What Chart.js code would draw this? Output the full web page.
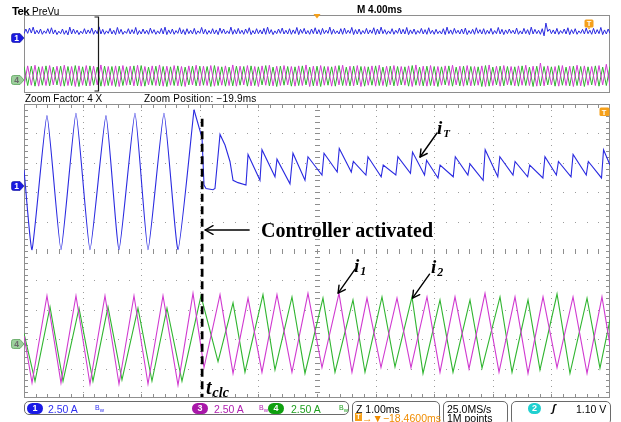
<!DOCTYPE html>
<html><head><meta charset="utf-8">
<script src="https://cdn.jsdelivr.net/npm/chart.js@4"></script>
<style>
html,body{margin:0;padding:0;background:#fff;width:621px;height:422px;overflow:hidden;}
#wrap{position:relative;width:621px;height:422px;}
canvas{position:absolute;left:0;top:0;}
.t{position:absolute;white-space:nowrap;font-family:"Liberation Sans",Arial,sans-serif;font-size:10px;line-height:10px;color:#000;}
.lab{position:absolute;white-space:nowrap;font-family:"Liberation Serif","Times New Roman",serif;font-weight:bold;color:#000;}
.it{font-style:italic;}
.box{position:absolute;border:1px solid #6a6a6a;border-radius:5px;box-sizing:border-box;}
.pill{position:absolute;height:11px;border-radius:6px;color:#fff;font:bold 9px/11px "Liberation Sans",Arial,sans-serif;text-align:center;}
.bw{position:absolute;font:7px/7px "Liberation Sans",Arial,sans-serif;}
svg.mk{position:absolute;}
</style></head><body>
<div id="wrap">
<canvas id="prev" width="621" height="422" style="width:621px;height:422px"></canvas>
<canvas id="main" width="621" height="422" style="width:621px;height:422px"></canvas>

<!-- header texts -->
<div class="t" style="left:12px;top:5.5px;font-size:11.5px;line-height:11.5px;font-weight:bold;letter-spacing:-0.7px">Tek</div>
<div class="t" style="left:32px;top:6.5px">PreVu</div>
<div class="t" style="left:357px;top:4.5px;font-weight:bold">M 4.00ms</div>
<div class="t" style="left:25px;top:93.5px">Zoom Factor: 4 X</div>
<div class="t" style="left:144px;top:93.5px;letter-spacing:0.2px">Zoom Position: −19.9ms</div>

<!-- channel markers -->
<svg class="mk" style="left:11px;top:33px" width="14" height="10"><path d="M2.5,0.5 H9 L13,5 L9,9.5 H2.5 Q0.5,9.5 0.5,7.5 V2.5 Q0.5,0.5 2.5,0.5Z" fill="#1a1ae0" stroke="#1010a0" stroke-width="0.6"/><text x="5.5" y="8.3" font-family="Liberation Sans" font-weight="bold" font-size="8.5" fill="#fff" text-anchor="middle">1</text></svg>
<svg class="mk" style="left:11px;top:75px" width="14" height="10"><path d="M2.5,0.5 H9 L13,5 L9,9.5 H2.5 Q0.5,9.5 0.5,7.5 V2.5 Q0.5,0.5 2.5,0.5Z" fill="#9ccf9c" stroke="#5aa55a" stroke-width="0.8"/><text x="5.5" y="8.3" font-family="Liberation Sans" font-weight="bold" font-size="8.5" fill="#6a6a6a" text-anchor="middle">4</text></svg>
<svg class="mk" style="left:11px;top:181px" width="14" height="10"><path d="M2.5,0.5 H9 L13,5 L9,9.5 H2.5 Q0.5,9.5 0.5,7.5 V2.5 Q0.5,0.5 2.5,0.5Z" fill="#1a1ae0" stroke="#1010a0" stroke-width="0.6"/><text x="5.5" y="8.3" font-family="Liberation Sans" font-weight="bold" font-size="8.5" fill="#fff" text-anchor="middle">1</text></svg>
<svg class="mk" style="left:11px;top:339px" width="14" height="10"><path d="M2.5,0.5 H9 L13,5 L9,9.5 H2.5 Q0.5,9.5 0.5,7.5 V2.5 Q0.5,0.5 2.5,0.5Z" fill="#9ccf9c" stroke="#5aa55a" stroke-width="0.8"/><text x="5.5" y="8.3" font-family="Liberation Sans" font-weight="bold" font-size="8.5" fill="#6a6a6a" text-anchor="middle">4</text></svg>

<!-- orange trigger markers -->
<svg class="mk" style="left:584px;top:19px" width="10" height="11"><rect x="0.5" y="0.5" width="9" height="8" rx="1.5" fill="#f5a01a"/><path d="M3.5,8.5 L5,10.5 L6.5,8.5Z" fill="#f5a01a"/><text x="5" y="7.3" font-family="Liberation Sans" font-weight="bold" font-size="7.5" fill="#fff" text-anchor="middle">T</text></svg>
<svg class="mk" style="left:599px;top:107px" width="11" height="10"><rect x="0.5" y="0.5" width="10" height="8.5" rx="1.5" fill="#f5a01a"/><text x="5" y="7.6" font-family="Liberation Sans" font-weight="bold" font-size="7.5" fill="#fff" text-anchor="middle">T</text></svg>

<!-- annotations -->
<div class="lab" style="left:261px;top:220px;font-size:20px;line-height:20px">Controller activated</div>
<div class="lab it" style="left:437px;top:118px;font-size:19px;line-height:19px">i<span style="font-size:11px;position:relative;top:3px;margin-left:1px">T</span></div>
<div class="lab it" style="left:354px;top:256px;font-size:19px;line-height:19px">i<span style="font-size:12px;position:relative;top:3px;margin-left:1px">1</span></div>
<div class="lab it" style="left:431px;top:257px;font-size:19px;line-height:19px">i<span style="font-size:12px;position:relative;top:3px;margin-left:1px">2</span></div>
<div class="lab it" style="left:206px;top:377px;font-size:20px;line-height:20px">t<span style="font-size:14px;position:relative;top:3px;margin-left:1px">clc</span></div>

<!-- bottom status bar -->
<div class="box" style="left:24px;top:401px;width:325px;height:14px"></div>
<div class="pill" style="left:27px;top:402.5px;width:16px;background:#1a1ae6">1</div>
<div class="t" style="left:48px;top:403.5px;font-size:10.5px;line-height:10.5px;color:#3030f0">2.50 A</div>
<div class="bw" style="left:95px;top:404px;color:#3030f0">B<sub style="font-size:6px">w</sub></div>
<div class="pill" style="left:192px;top:402.5px;width:16px;background:#a818a8">3</div>
<div class="t" style="left:214px;top:403.5px;font-size:10.5px;line-height:10.5px;color:#b020b0">2.50 A</div>
<div class="bw" style="left:259px;top:404px;color:#b020b0">B<sub style="font-size:6px">w</sub></div>
<div class="pill" style="left:268px;top:402.5px;width:16px;background:#10a010">4</div>
<div class="t" style="left:291px;top:403.5px;font-size:10.5px;line-height:10.5px;color:#20a020">2.50 A</div>
<div class="bw" style="left:339px;top:404px;color:#20a020">B<sub style="font-size:6px">w</sub></div>

<div class="box" style="left:352px;top:401px;width:88px;height:24px"></div>
<div class="t" style="left:356px;top:403.5px;font-size:10.5px;line-height:10.5px">Z 1.00ms</div>
<div class="t" style="left:355px;top:412.5px;font-size:10.5px;line-height:10.5px;color:#f08c00"><span style="display:inline-block;width:7px;height:8px;background:#f5a01a;color:#fff;font-size:7px;line-height:8px;text-align:center;font-weight:bold;vertical-align:top">T</span>→▼−18.4600ms</div>

<div class="box" style="left:443px;top:401px;width:65px;height:24px"></div>
<div class="t" style="left:447px;top:403.5px;font-size:10.5px;line-height:10.5px">25.0MS/s</div>
<div class="t" style="left:447px;top:412.5px;font-size:10.5px;line-height:10.5px">1M points</div>

<div class="box" style="left:511px;top:401px;width:100px;height:24px"></div>
<div class="pill" style="left:528px;top:402.5px;width:13px;background:#20d0d0">2</div>
<div class="t" style="left:552px;top:403px;font-size:11px;line-height:11px;font-weight:bold;font-style:italic">ʃ</div>
<div class="t" style="left:576px;top:403.5px;font-size:10.5px;line-height:10.5px">1.10 V</div>
</div>

<script>
// ===== Data =====
// Zoom window: time in ms (1.00 ms/div), currents in A (2.50 A/div)
const iT_t = [0, 0.137, 0.392, 0.631, 0.887, 1.126, 1.399, 1.621, 1.894, 2.116, 2.389, 2.628, 2.901, 3.038, 3.072, 3.106, 3.225, 3.259, 3.345, 3.430, 3.515, 3.567, 3.652, 3.788, 3.823, 4.027, 4.061, 4.283, 4.317, 4.539, 4.590, 4.795, 4.846,
  5.085, 5.12, 5.345, 5.38, 5.585, 5.62, 5.835, 5.87, 6.095, 6.13, 6.345, 6.38, 6.595, 6.63, 6.835, 6.87, 7.065, 7.10, 7.325, 7.36, 7.575, 7.61, 7.835, 7.87, 8.085, 8.12, 8.345, 8.38, 8.595, 8.63, 8.855, 8.89, 9.085, 9.12, 9.335, 9.37, 9.595, 9.63, 9.855, 9.89, 10.0];
const iT_A = [1.3, -5.5, 5.9, -5.5, 6.1, -5.5, 5.9, -5.5, 6.1, -5.5, 6.1, -5.5, 6.4, 4.0, 0.0, -0.3, -0.4, -0.3, 4.3, 3.4, 2.0, 0.4, 0.2, 0.0, 2.6, 0.4, 3.0, 0.7, 2.2, 0.1, 2.7, 0.4, 2.4,
  0.85, 2.7, 1.1, 3.1, 1.1, 2.0, 0.85, 2.4, 0.7, 1.7, 0.85, 2.4, 1.0, 2.8, 0.85, 2.1, 0.6, 1.7, 0.7, 2.4, 0.85, 1.8, 0.4, 3.0, 0.7, 2.4, 0.85, 2.0, 0.7, 1.7, 0.6, 2.4, 0.85, 2.0, 0.7, 2.6, 0.85, 2.0, 0.6, 3.0, 1.7];

const i1_t = [0, 0.137, 0.392, 0.631, 0.887, 1.126, 1.382, 1.621, 1.877, 2.116, 2.372, 2.628, 2.884, 3.072, 3.345, 3.567, 3.823, 4.061, 4.317, 4.573, 4.846, 5.085, 5.375, 5.597, 5.853, 6.092, 6.365, 6.604, 6.877, 7.099, 7.355, 7.594, 7.867, 8.106, 8.379, 8.601, 8.857, 9.096, 9.369, 9.608, 9.863, 10.0];
const i1_A = [0.7, -3.3, 4.1, -3.3, 4.1, -3.4, 4.1, -3.4, 4.1, -3.4, 4.1, -3.5, 4.3, -2.0, 4.2, -2.5, 3.9, -2.4, 4.2, -2.4, 4.3, -2.0, 4.3, -2.4, 3.9, -2.0, 3.9, -2.0, 4.0, -2.4, 4.0, -2.1, 4.3, -2.4, 4.0, -2.5, 4.0, -2.0, 4.0, -2.5, 4.0, -0.1];

const i2_t = [0, 0.188, 0.444, 0.666, 0.939, 1.177, 1.433, 1.672, 1.945, 2.184, 2.440, 2.696, 3.020, 3.311, 3.567, 3.771, 4.078, 4.283, 4.573, 4.795, 5.102, 5.307, 5.614, 5.819, 6.109, 6.331, 6.621, 6.809, 7.099, 7.321, 7.611, 7.816, 8.123, 8.328, 8.601, 8.805, 9.096, 9.317, 9.608, 9.829, 10.0];
const i2_A = [0.9, -3.15, 3.15, -3.15, 3.05, -3.15, 3.15, -3.05, 3.05, -3.15, 3.05, -3.15, 4.1, -1.5, 3.5, -2.4, 4.2, -2.2, 4.0, -2.5, 3.9, -2.4, 3.75, -2.4, 4.0, -1.95, 4.0, -2.5, 3.75, -2.4, 3.75, -2.05, 4.0, -2.4, 3.75, -2.2, 4.25, -2.5, 3.9, -2.05, 2.05];

const tClc = 3.04;           // controller activation instant (ms)

// PreVu record (40 ms, 4.00 ms/div): vertex values in A
const prevStepIT = 0.125;    // ms between i_T vertices
const prevIT = [
 0.9,2.4,1.0,2.7,1.1,3.0,0.8,2.0, 0.9,2.4,0.7,1.8,1.0,2.5,0.9,2.8, 0.8,2.1,0.6,1.7,0.9,2.4,0.7,1.9, 0.5,3.0,0.8,2.4,0.9,2.0,0.6,1.7,
 0.9,2.5,0.8,2.1,1.0,2.7,0.7,2.0, 0.9,3.1,0.8,2.3,0.7,1.8,1.0,2.6, 0.8,2.0,0.6,2.9,0.9,2.3,0.7,1.7, 1.0,2.5,0.8,2.2,0.9,2.9,0.6,1.9,
 0.8,2.4,0.9,2.0,0.7,2.7,1.0,2.2, 0.7,1.8,0.9,2.6,0.8,3.0,0.6,2.1, 0.9,2.4,0.7,1.9,1.0,2.8,0.8,2.2, 0.6,2.5,0.9,2.0,0.8,2.6,0.7,1.8,
 1.0,2.9,0.8,2.3,0.7,1.9,0.9,2.5, 0.8,2.1,0.6,2.7,1.0,2.4,0.8,1.8, 0.9,3.0,0.7,2.2,0.8,2.6,0.9,2.0, 0.7,2.4,1.0,2.8,0.6,1.9,0.8,2.5,
 0.9,2.1,0.8,2.6,0.7,3.0,0.9,2.2, 0.6,1.8,0.9,2.4,1.0,2.7,0.8,2.0, 0.8,2.5,0.7,2.1,0.9,2.9,0.6,2.3, 1.0,2.6,0.8,1.9,0.7,2.4,0.9,2.8,
 0.8,2.2,0.6,2.6,0.9,2.0,1.0,3.0, 0.7,2.3,0.9,1.8,0.8,2.5,0.7,2.7, 0.9,2.0,1.0,2.9,0.6,2.2,0.8,2.4, 0.7,1.9,0.9,2.6,0.8,2.1,1.0,2.8,
 0.6,2.4,0.8,3.0,0.9,2.2,0.7,1.8, 0.9,2.5,0.7,2.0,1.0,2.7,0.8,2.3, 0.8,2.9,0.6,2.1,0.9,2.4,0.7,1.9, 1.0,2.6,0.8,2.2,0.7,2.8,0.9,2.0,
 0.7,2.3,0.9,1.8,0.8,2.5,0.6,3.0, 0.9,2.1,0.7,2.6,1.0,2.0,0.8,2.4, 0.8,2.7,0.6,1.9,0.9,2.3,0.7,2.8, 1.0,2.2,0.8,2.5,0.7,2.0,0.9,2.6,
 0.7,1.9,0.9,2.9,0.8,2.3,0.6,2.1, 0.9,2.4,1.0,2.0,0.8,2.7,0.7,1.8, 0.8,2.6,0.9,2.2,0.6,3.0,0.8,2.3, 0.9,2.0,0.7,2.5,0.2,4.3,1.6,2.4,
 0.9,2.1,0.8,2.6,0.7,1.9,1.0,2.4, 0.8,2.8,0.6,2.2,0.9,2.5,0.7,1.8, 1.0,2.3,0.8,2.7,0.9,2.0,0.7,2.6, 0.8,2.2,0.9,2.9,0.6,2.1,0.8,2.4,
 1.0];
const prevStepI = 0.25;      // ms between i1 / i2 vertices
const prevI1 = [
 -2.3,4.1,-2.1,4.3,-2.4,3.9,-2.2,4.2, -2.0,4.0,-2.4,4.3,-2.2,3.9,-2.5,4.1, -2.1,4.2,-2.3,4.0,-2.0,4.4,-2.4,3.9, -2.2,4.1,-2.5,4.2,-2.1,4.0,-2.3,4.3,
 -2.4,3.9,-2.0,4.1,-2.2,4.4,-2.4,4.0, -2.1,4.2,-2.3,3.9,-2.5,4.1,-2.0,4.3, -2.3,4.0,-2.2,4.2,-2.4,3.9,-2.1,4.1, -2.2,4.4,-2.4,4.0,-2.0,4.2,-2.3,3.9,
 -2.5,4.1,-2.1,4.3,-2.3,4.0,-2.2,4.2, -2.0,3.9,-2.4,4.1,-2.2,4.4,-2.5,4.0, -2.3,4.2,-2.1,3.9,-2.4,4.1,-2.0,4.3, -2.2,4.0,-2.3,4.2,-2.5,3.9,-2.1,4.1,
 -2.4,4.3,-2.2,4.0,-2.0,4.2,-2.3,3.9, -2.1,4.1,-2.5,4.4,-2.2,4.0,-2.4,4.2, -2.3,3.9,-2.1,4.1,-2.2,4.3,-2.0,4.0, -2.4,4.2,-2.3,3.9,-2.1,4.1,-2.5,4.4,
 -2.2,4.0,-2.4,4.2,-2.0,3.9,-2.3,4.1, -2.1,4.3,-2.2,4.0,-2.4,5.0,-2.3,4.1, -2.0,3.9,-2.4,4.2,-2.2,4.0,-2.5,4.3, -2.3,4.1,-2.1,3.9,-2.2,4.2,-2.0,4.6,
 -2.3];
const prevI2 = [
 3.9,-2.2,4.0,-2.4,3.8,-2.1,4.1,-2.3, 3.7,-2.0,4.0,-2.4,3.9,-2.2,4.2,-2.5, 3.8,-2.3,4.1,-2.1,3.7,-2.4,4.0,-2.2, 3.9,-2.5,4.0,-2.2,3.8,-2.0,4.1,-2.3,
 4.2,-2.4,3.7,-2.1,4.0,-2.3,3.9,-2.5, 3.8,-2.2,4.1,-2.4,3.7,-2.0,4.0,-2.3, 4.0,-2.1,3.9,-2.5,4.2,-2.2,3.8,-2.4, 3.7,-2.3,4.0,-2.1,3.9,-2.4,4.1,-2.2,
 3.8,-2.0,4.2,-2.3,3.7,-2.5,4.0,-2.1, 3.9,-2.4,3.8,-2.2,4.1,-2.0,3.7,-2.3, 4.0,-2.5,3.9,-2.1,3.8,-2.4,4.2,-2.2, 3.7,-2.3,4.0,-2.0,3.9,-2.4,3.8,-2.1,
 4.1,-2.2,3.7,-2.5,4.0,-2.3,3.9,-2.0, 3.8,-2.4,4.2,-2.1,3.7,-2.3,4.0,-2.2, 3.9,-2.5,3.8,-2.0,4.1,-2.4,3.7,-2.3, 4.0,-2.1,3.9,-2.2,3.8,-2.5,4.2,-2.4,
 3.7,-2.0,4.0,-2.3,3.9,-2.1,3.8,-2.4, 4.1,-2.2,3.7,-2.5,4.0,-2.3,3.9,-2.0, 3.8,-2.4,4.2,-2.1,3.7,-2.3,4.0,-2.2, 3.9,-2.5,3.8,-2.0,4.1,-2.4,3.7,-2.2,
 3.9];
const prevTrigT = 20.0;      // trigger position marker (ms)
const zoomBracketT = 5.05;   // zoom bracket edge (ms)

// ===== Display settings =====
const ampsPerDiv = 2.5;
const chOffsetDiv = {1: 2.245, 3: -3.163, 4: -3.163};
const BLU = '#2a2ae0', MAG = '#d03ad0', GRN = '#30b530';

function toDiv(A, ch){ return chOffsetDiv[ch] + A / ampsPerDiv; }
function series(ts, vs, ch){ return ts.map((t, i) => ({x: t, y: toDiv(vs[i], ch)})); }
function seriesStep(vs, step, ch){ return vs.map((v, i) => ({x: i * step, y: toDiv(v, ch)})); }

// i_T split at the activation instant: the open-loop part is drawn with slightly rounded corners
const iT_all = series(iT_t, iT_A, 1);
const iT_before = iT_all.filter(p => p.x <= 2.95);
const iT_after = iT_all.filter(p => p.x >= 2.9);

function arrow(ctx, x1, y1, x2, y2, L, W){
  ctx.beginPath(); ctx.moveTo(x1, y1); ctx.lineTo(x2, y2); ctx.stroke();
  const a = Math.atan2(y2 - y1, x2 - x1);
  ctx.beginPath();
  ctx.moveTo(x2 - L*Math.cos(a - W), y2 - L*Math.sin(a - W));
  ctx.lineTo(x2, y2);
  ctx.lineTo(x2 - L*Math.cos(a + W), y2 - L*Math.sin(a + W));
  ctx.stroke();
}

const graticule = {
  id: 'grat',
  beforeDatasetsDraw(chart){
    const {ctx, chartArea: a, scales: {x, y}} = chart;
    const L = Math.round(a.left), R = Math.round(a.right), T = Math.round(a.top), B = Math.round(a.bottom);
    ctx.save();
    ctx.fillStyle = '#9c9c9c';
    for (let d = -4; d <= 4; d++){
      const py = Math.round(y.getPixelForValue(d));
      for (let m = 1; m < 50; m++){ ctx.fillRect(Math.round(x.getPixelForValue(m*0.2)), py, 1, 1); }
    }
    for (let d = 1; d <= 9; d++){
      const px = Math.round(x.getPixelForValue(d));
      for (let m = 1; m < 50; m++){ ctx.fillRect(px, Math.round(y.getPixelForValue(-5 + m*0.2)), 1, 1); }
    }
    const cx = Math.round(x.getPixelForValue(5)), cy = Math.round(y.getPixelForValue(0));
    ctx.fillStyle = '#8e8e8e';
    for (let m = 1; m < 50; m++){
      const py = Math.round(y.getPixelForValue(-5 + m*0.2));
      ctx.fillRect(cx - 2, py, 5, 1); ctx.fillRect(L + 1, py, 3, 1); ctx.fillRect(R - 4, py, 3, 1);
      const px = Math.round(x.getPixelForValue(m*0.2));
      ctx.fillRect(px, cy - 2, 1, 5); ctx.fillRect(px, T + 1, 1, 3); ctx.fillRect(px, B - 4, 1, 3);
    }
    ctx.strokeStyle = '#8f8f8f'; ctx.lineWidth = 1;
    ctx.strokeRect(L + 0.5, T + 0.5, R - L - 1, B - T - 1);
    ctx.restore();
  }
};

const annot = {
  id: 'annot',
  afterDatasetsDraw(chart){
    const {ctx, scales: {x, y}} = chart;
    ctx.save();
    const xc = x.getPixelForValue(tClc);
    ctx.strokeStyle = '#000'; ctx.lineWidth = 2.7; ctx.setLineDash([8, 4.5]);
    ctx.beginPath(); ctx.moveTo(xc, y.getPixelForValue(4.5)); ctx.lineTo(xc, y.getPixelForValue(-4.97)); ctx.stroke();
    ctx.setLineDash([]);
    ctx.lineWidth = 1.4; ctx.lineCap = 'round'; ctx.lineJoin = 'round';
    const ty = y.getPixelForValue(0.714);
    arrow(ctx, xc + 47, ty, xc + 3, ty, 9, 0.5);
    const tips = [[6.758, toDiv(2.38, 1)], [5.36, toDiv(4.33, 3)], [6.63, toDiv(3.9, 4)]];
    for (const [t, v] of tips){
      const px = x.getPixelForValue(t), py = y.getPixelForValue(v);
      arrow(ctx, px + 17, py - 24, px, py, 8, 0.5);
    }
    ctx.restore();
  }
};

const prevDeco = {
  id: 'prevDeco',
  beforeDatasetsDraw(chart){
    const {ctx, chartArea: a} = chart;
    const L = Math.round(a.left), R = Math.round(a.right), T = Math.round(a.top), B = Math.round(a.bottom);
    ctx.save();
    ctx.strokeStyle = '#8e8e8e'; ctx.lineWidth = 1;
    ctx.strokeRect(L + 0.5, T + 0.5, R - L - 1, B - T - 1);
    ctx.restore();
  },
  afterDatasetsDraw(chart){
    const {ctx, chartArea: a, scales: {x}} = chart;
    ctx.save();
    const bx = Math.round(x.getPixelForValue(zoomBracketT)) + 0.5;
    ctx.strokeStyle = '#1a1a1a'; ctx.lineWidth = 1.2;
    ctx.beginPath(); ctx.moveTo(bx - 4, a.top + 2); ctx.lineTo(bx, a.top + 2); ctx.lineTo(bx, a.bottom - 2); ctx.lineTo(bx - 4, a.bottom - 2); ctx.stroke();
    const tx = x.getPixelForValue(prevTrigT);
    ctx.fillStyle = '#f5a01a';
    ctx.beginPath(); ctx.moveTo(tx - 3.5, a.top - 1); ctx.lineTo(tx + 3.5, a.top - 1); ctx.lineTo(tx, a.top + 3.5); ctx.closePath(); ctx.fill();
    ctx.restore();
  }
};

const common = {
  responsive: false, maintainAspectRatio: false, animation: false, devicePixelRatio: 1,
  plugins: {legend: {display: false}, tooltip: {enabled: false}},
  elements: {point: {radius: 0}, line: {borderWidth: 1.1, tension: 0}},
  events: []
};

new Chart(document.getElementById('prev'), {
  type: 'line',
  data: {datasets: [
    {data: seriesStep(prevI1, prevStepI, 3), borderColor: MAG, borderWidth: 1},
    {data: seriesStep(prevI2, prevStepI, 4), borderColor: GRN, borderWidth: 1},
    {data: seriesStep(prevIT, prevStepIT, 1), borderColor: BLU, borderWidth: 1}
  ]},
  options: Object.assign({}, common, {
    layout: {padding: {left: 24, right: 11, top: 15, bottom: 329}},
    scales: {x: {type: 'linear', min: 0, max: 40, display: false}, y: {type: 'linear', min: -5, max: 5, display: false}}
  }),
  plugins: [prevDeco]
});

new Chart(document.getElementById('main'), {
  type: 'line',
  data: {datasets: [
    {data: series(i1_t, i1_A, 3), borderColor: MAG},
    {data: series(i2_t, i2_A, 4), borderColor: GRN},
    {data: iT_before, borderColor: BLU, tension: 0.15},
    {data: iT_after, borderColor: BLU}
  ]},
  options: Object.assign({}, common, {
    layout: {padding: {left: 24, right: 11, top: 104, bottom: 24}},
    scales: {x: {type: 'linear', min: 0, max: 10, display: false}, y: {type: 'linear', min: -5, max: 5, display: false}}
  }),
  plugins: [graticule, annot]
});
</script>
</body></html>
